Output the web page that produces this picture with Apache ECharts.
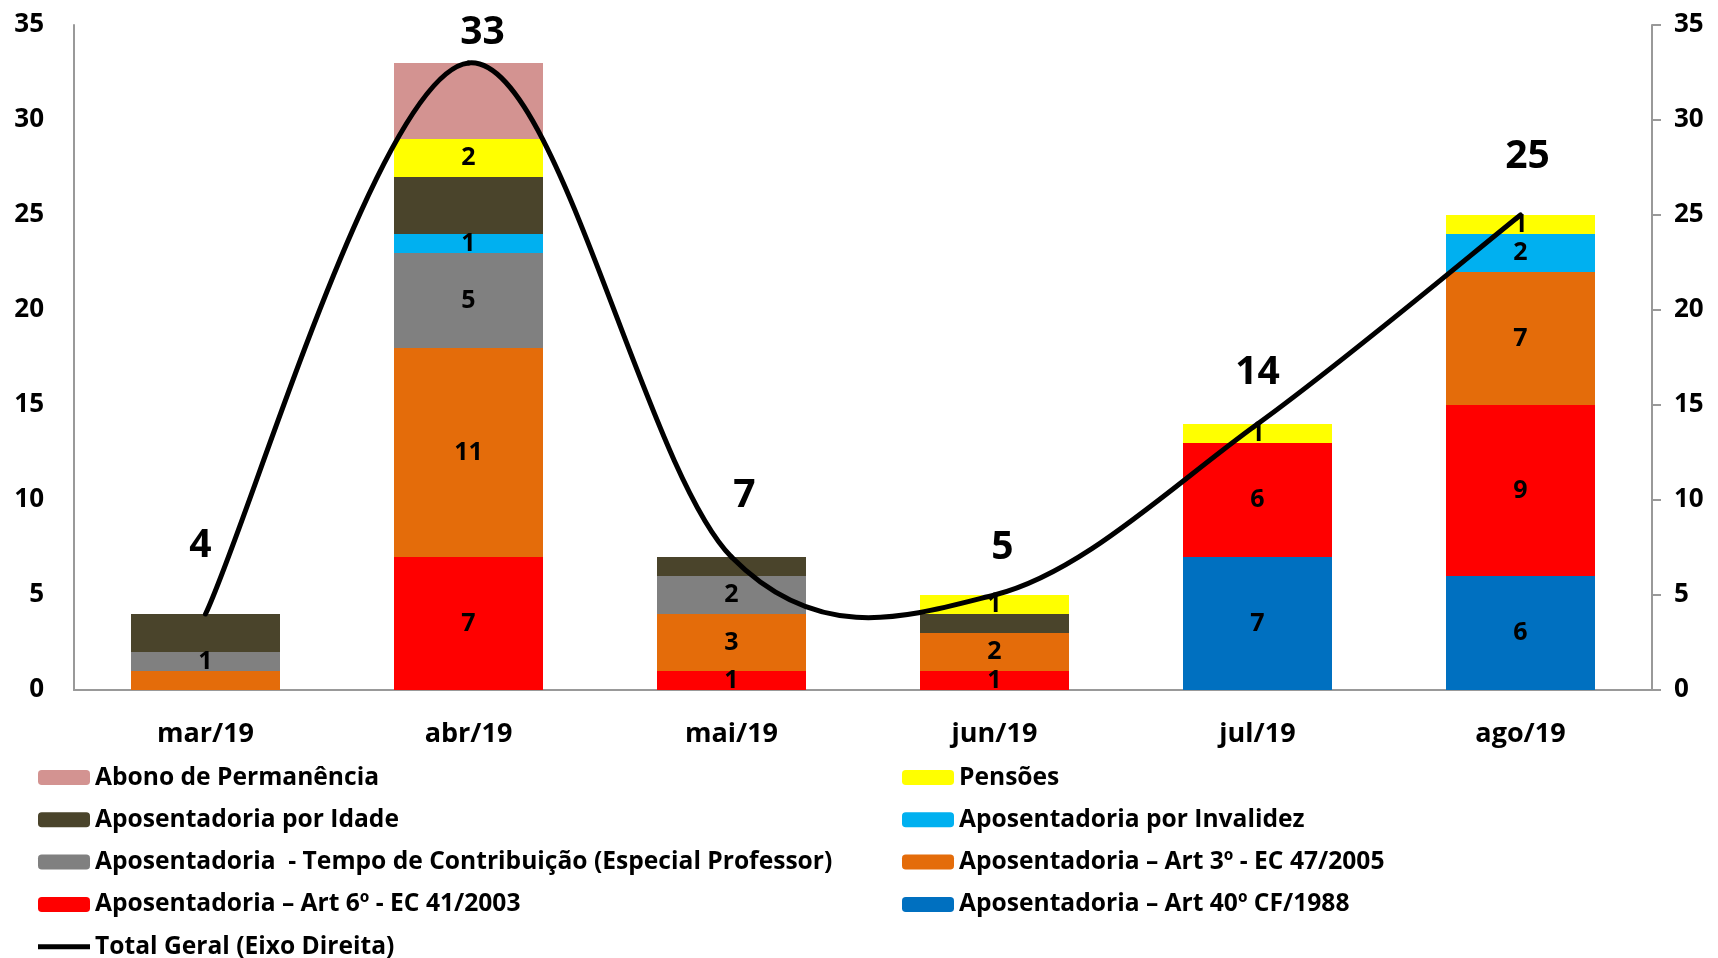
<!DOCTYPE html>
<html>
<head>
<meta charset="utf-8">
<script src="https://cdn.jsdelivr.net/npm/echarts@6/dist/echarts.min.js"></script>
<style>
html, body { margin: 0; padding: 0; background: #fff; }
#chart { width: 1718px; height: 958px; }
</style>
</head>
<body>
<div id="chart"></div>
<script>
// meses
var months = ['mar/19', 'abr/19', 'mai/19', 'jun/19', 'jul/19', 'ago/19'];

// valores por tipo (de baixo para cima na pilha)
var art40 = [0, 0, 0, 0, 7, 6];
var art6 = [0, 7, 1, 1, 6, 9];
var art3 = [1, 11, 3, 2, 0, 7];
var tempoContrib = [1, 5, 2, 0, 0, 0];
var invalidez = [0, 1, 0, 0, 0, 2];
var idade = [2, 3, 1, 1, 0, 0];
var pensoes = [0, 2, 0, 1, 1, 1];
var abono = [0, 4, 0, 0, 0, 0];
var totalGeral = [4, 33, 7, 5, 14, 25];

var yTicks = [0, 5, 10, 15, 20, 25, 30, 35];

var fontName = '"Open Sans", Lato, sans-serif';
var totalName = 'Total Geral (Eixo Direita)';

var stackDefs = [
	{ name: 'Aposentadoria – Art 40º CF/1988', data: art40, color: '#0070C0', label: true },
	{ name: 'Aposentadoria – Art 6º - EC 41/2003', data: art6, color: '#FF0000', label: true },
	{ name: 'Aposentadoria – Art 3º - EC 47/2005', data: art3, color: '#E46C0A', label: true, hide: [0] },
	{ name: 'Aposentadoria  - Tempo de Contribuição (Especial Professor)', data: tempoContrib, color: '#808080', label: true },
	{ name: 'Aposentadoria por Invalidez', data: invalidez, color: '#00B0F0', label: true },
	{ name: 'Aposentadoria por Idade', data: idade, color: '#4A442B', label: false },
	{ name: 'Pensões', data: pensoes, color: '#FFFF00', label: true },
	{ name: 'Abono de Permanência', data: abono, color: '#D39391', label: false }
];

// deslocamento dos rótulos do total (posicionados à mão, como no Excel)
var totalLabelShift = [[-5, -68], [14, -30], [13, -61], [8, -47], [0, -51], [7, -58]];

var series = stackDefs.map(function (d) {
	return {
		name: d.name,
		type: 'bar',
		stack: 'tipos',
		barWidth: 149,
		yAxisIndex: 0,
		itemStyle: { color: d.color },
		label: {
			show: d.label,
			position: 'inside',
			color: '#000',
			fontFamily: fontName,
			fontWeight: 'bold',
			fontSize: 25,
			formatter: function (p) { return p.value ? p.value : ''; }
		},
		data: d.data.map(function (v, i) {
			if (d.hide && d.hide.indexOf(i) >= 0) {
				return { value: v, label: { show: false } };
			}
			return v;
		})
	};
});

// linha suavizada estilo Excel (curva cardinal) desenhada pelo custom series
function renderTotal(params, api) {
	var i = params.dataIndex;
	var n = totalGeral.length;
	var pt = function (k) {
		k = Math.max(0, Math.min(n - 1, k));
		return api.coord([k, totalGeral[k]]);
	};
	var children = [];
	if (i < n - 1) {
		var p0 = pt(i - 1), p1 = pt(i), p2 = pt(i + 1), p3 = pt(i + 2);
		children.push({
			type: 'bezierCurve',
			shape: {
				x1: p1[0], y1: p1[1],
				x2: p2[0], y2: p2[1],
				cpx1: p1[0] + (p2[0] - p0[0]) / 6,
				cpy1: p1[1] + (p2[1] - p0[1]) / 6,
				cpx2: p2[0] - (p3[0] - p1[0]) / 6,
				cpy2: p2[1] - (p3[1] - p1[1]) / 6
			},
			style: { stroke: '#000', lineWidth: 5, fill: null, lineCap: 'round' }
		});
	}
	var c = pt(i);
	children.push({
		type: 'text',
		x: c[0] + totalLabelShift[i][0],
		y: c[1] + totalLabelShift[i][1],
		style: {
			text: String(api.value(1)),
			fill: '#000',
			fontFamily: fontName,
			fontWeight: 'bold',
			fontSize: 39,
			align: 'center',
			verticalAlign: 'middle'
		}
	});
	return { type: 'group', children: children };
}

series.push({
	name: totalName,
	type: 'custom',
	yAxisIndex: 1,
	z: 10,
	itemStyle: { color: '#000' },
	renderItem: renderTotal,
	encode: { x: 0, y: 1 },
	data: totalGeral.map(function (v, i) { return [i, v]; })
});

var chart = echarts.init(document.getElementById('chart'));

var axisLabelStyle = {
	color: '#000',
	fontFamily: fontName,
	fontWeight: 'bold',
	fontSize: 26
};

var legendBase = {
	orient: 'vertical',
	top: 765,
	height: 220,
	padding: 0,
	itemWidth: 52,
	itemHeight: 15,
	itemGap: 17.3,
	textStyle: { color: '#000', fontFamily: fontName, fontWeight: 'bold', fontSize: 24.6, lineHeight: 24.2 }
};

chart.setOption({
	animation: false,
	textStyle: { fontFamily: fontName },
	grid: { left: 74, right: 66, top: 25, bottom: 268, containLabel: false },
	legend: [
		Object.assign({}, legendBase, {
			left: 38,
			data: ['Abono de Permanência', 'Aposentadoria por Idade', 'Aposentadoria  - Tempo de Contribuição (Especial Professor)', 'Aposentadoria – Art 6º - EC 41/2003',
				{ name: totalName, icon: 'path://M0,0 L52,0 L52,5 L0,5 Z' }]
		}),
		Object.assign({}, legendBase, {
			left: 902,
			data: ['Pensões', 'Aposentadoria por Invalidez', 'Aposentadoria – Art 3º - EC 47/2005', 'Aposentadoria – Art 40º CF/1988']
		})
	],
	xAxis: {
		type: 'category',
		data: months,
		axisLine: { lineStyle: { color: '#999', width: 2 } },
		axisTick: { show: false },
		axisLabel: Object.assign({ margin: 31 }, axisLabelStyle, { fontSize: 27 })
	},
	yAxis: [{
		type: 'value',
		min: yTicks[0],
		max: yTicks[yTicks.length - 1],
		interval: 5,
		axisLine: { show: true, lineStyle: { color: '#999', width: 2 } },
		axisTick: { show: false },
		splitLine: { show: false },
		axisLabel: Object.assign({ margin: 30 }, axisLabelStyle)
	}, {
		type: 'value',
		position: 'right',
		min: yTicks[0],
		max: yTicks[yTicks.length - 1],
		interval: 5,
		axisLine: { show: true, lineStyle: { color: '#999', width: 2 } },
		axisTick: { show: true, length: 9, lineStyle: { color: '#999', width: 2 } },
		splitLine: { show: false },
		axisLabel: Object.assign({ margin: 22 }, axisLabelStyle)
	}],
	series: series
});
</script>
</body>
</html>
